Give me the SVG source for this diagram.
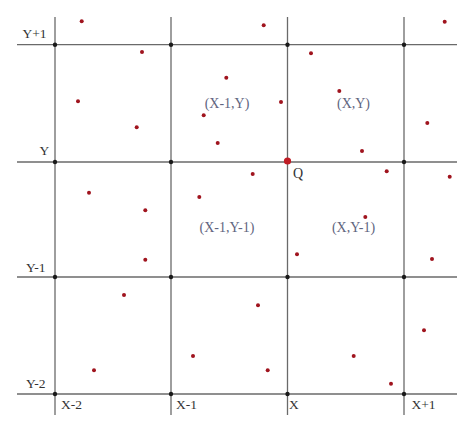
<svg xmlns="http://www.w3.org/2000/svg" width="474" height="432" viewBox="0 0 474 432">
<style>
.grid{stroke:#6a6a6a;stroke-width:1.3;fill:none}
.node{fill:#1a1a1a}
.pt{fill:#a0141e}
.q{fill:#c01c24}
.ax{font-family:"Liberation Serif",serif;font-size:13.5px;fill:#333}
.cell{font-family:"Liberation Serif",serif;font-size:14px;fill:#5f6580;text-anchor:middle}
</style>
<rect width="474" height="432" fill="#fff"/>
<g id="connectors">
<line class="grid" x1="55" y1="17" x2="55" y2="415"/>
<line class="grid" x1="171" y1="17" x2="171" y2="415"/>
<line class="grid" x1="287.5" y1="17" x2="287.5" y2="415"/>
<line class="grid" x1="404" y1="17" x2="404" y2="415"/>
<line class="grid" x1="17" y1="44.7" x2="457" y2="44.7"/>
<line class="grid" x1="17" y1="162" x2="457" y2="162"/>
<line class="grid" x1="17" y1="277" x2="457" y2="277"/>
<line class="grid" x1="17" y1="394" x2="457" y2="394"/>
</g>
<g id="nodes">
<circle class="node" cx="55" cy="44.7" r="2.2"/>
<circle class="node" cx="171" cy="44.7" r="2.2"/>
<circle class="node" cx="287.5" cy="44.7" r="2.2"/>
<circle class="node" cx="404" cy="44.7" r="2.2"/>
<circle class="node" cx="55" cy="162" r="2.2"/>
<circle class="node" cx="171" cy="162" r="2.2"/>
<circle class="node" cx="404" cy="162" r="2.2"/>
<circle class="node" cx="55" cy="277" r="2.2"/>
<circle class="node" cx="171" cy="277" r="2.2"/>
<circle class="node" cx="287.5" cy="277" r="2.2"/>
<circle class="node" cx="404" cy="277" r="2.2"/>
<circle class="node" cx="55" cy="394" r="2.2"/>
<circle class="node" cx="171" cy="394" r="2.2"/>
<circle class="node" cx="287.5" cy="394" r="2.2"/>
<circle class="node" cx="404" cy="394" r="2.2"/>
</g>
<g id="points">
<circle class="pt" cx="81.7" cy="21.3" r="2"/>
<circle class="pt" cx="142" cy="52" r="2"/>
<circle class="pt" cx="226.3" cy="77.7" r="2"/>
<circle class="pt" cx="78" cy="101.3" r="2"/>
<circle class="pt" cx="203.7" cy="115.3" r="2"/>
<circle class="pt" cx="136.7" cy="127.3" r="2"/>
<circle class="pt" cx="217.7" cy="143" r="2"/>
<circle class="pt" cx="89" cy="192.7" r="2"/>
<circle class="pt" cx="199.3" cy="197" r="2"/>
<circle class="pt" cx="145.3" cy="210.3" r="2"/>
<circle class="pt" cx="263.7" cy="25.3" r="2"/>
<circle class="pt" cx="444.7" cy="21.7" r="2"/>
<circle class="pt" cx="311" cy="53.3" r="2"/>
<circle class="pt" cx="339.3" cy="91" r="2"/>
<circle class="pt" cx="281" cy="102" r="2"/>
<circle class="pt" cx="427.3" cy="123" r="2"/>
<circle class="pt" cx="362" cy="151" r="2"/>
<circle class="pt" cx="252.7" cy="174" r="2"/>
<circle class="pt" cx="386.7" cy="171.3" r="2"/>
<circle class="pt" cx="449.7" cy="176.7" r="2"/>
<circle class="pt" cx="365.3" cy="217" r="2"/>
<circle class="pt" cx="145.3" cy="259.7" r="2"/>
<circle class="pt" cx="124" cy="295" r="2"/>
<circle class="pt" cx="193" cy="356" r="2"/>
<circle class="pt" cx="94" cy="370.3" r="2"/>
<circle class="pt" cx="297" cy="254.3" r="2"/>
<circle class="pt" cx="432" cy="259" r="2"/>
<circle class="pt" cx="258" cy="305.3" r="2"/>
<circle class="pt" cx="424" cy="330.3" r="2"/>
<circle class="pt" cx="353.7" cy="356" r="2"/>
<circle class="pt" cx="267.7" cy="370.3" r="2"/>
<circle class="pt" cx="391" cy="383.7" r="2"/>
</g>
<g id="Q">
<circle class="q" cx="287.5" cy="161" r="3.6"/>
<text class="ax" x="293" y="178" style="font-size:14px">Q</text>
</g>
<g id="labels">
<text class="ax" x="22.5" y="38">Y+1</text>
<text class="ax" x="39.5" y="155">Y</text>
<text class="ax" x="26" y="272">Y-1</text>
<text class="ax" x="26" y="388">Y-2</text>
<text class="ax" x="61" y="409">X-2</text>
<text class="ax" x="176" y="409">X-1</text>
<text class="ax" x="289" y="409">X</text>
<text class="ax" x="411.5" y="409">X+1</text>
</g>
<g id="cell-labels">
<text class="cell" x="227" y="108">(X-1,Y)</text>
<text class="cell" x="353.5" y="108">(X,Y)</text>
<text class="cell" x="227" y="232">(X-1,Y-1)</text>
<text class="cell" x="353.5" y="232">(X,Y-1)</text>
</g>
</svg>
